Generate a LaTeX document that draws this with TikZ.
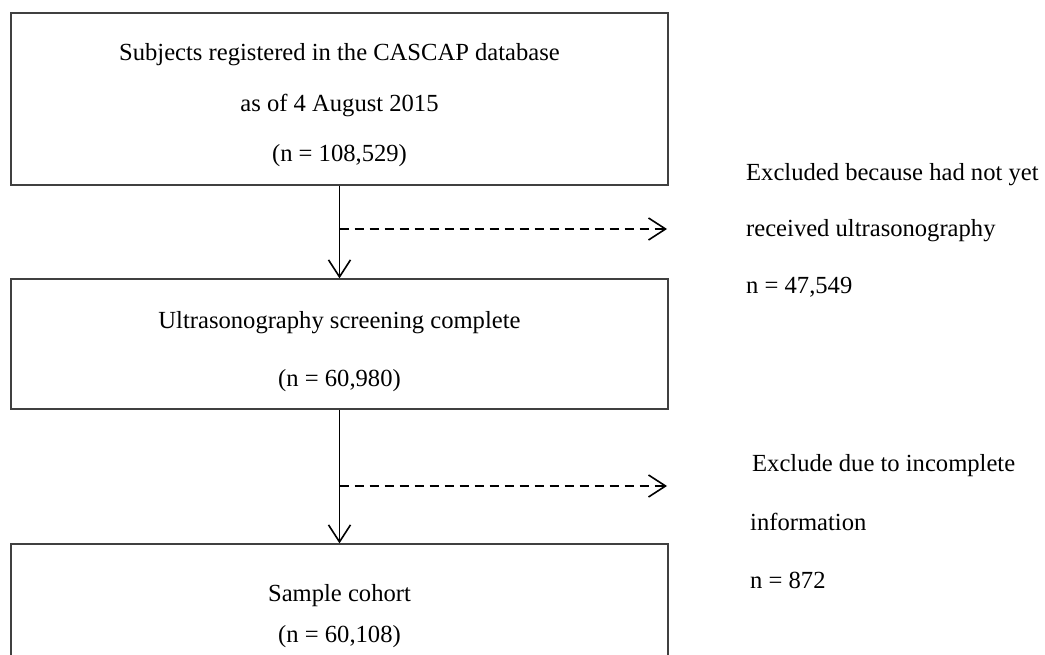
\documentclass[tikz,border=0pt]{standalone}
\usepackage{fontspec}
\setmainfont{Liberation Serif}
\usetikzlibrary{arrows.meta}
\tikzset{
  box/.style={draw=black!75,line width=1.3pt,minimum width=657pt,align=center,inner sep=0pt},
  flow/.style={line width=1.6pt,-{Straight Barb[length=17pt,width=22pt,line width=1.6pt]}},
  excl/.style={line width=1.6pt,dash pattern=on 9pt off 6pt,-{Straight Barb[length=17pt,width=22pt,line width=1.6pt]}},
  note/.style={anchor=west,align=left,inner sep=0pt}
}

\begin{document}
\begin{tikzpicture}[x=1pt,y=-1pt,font=\fontsize{24.6}{28}\selectfont]
\useasboundingbox (0,0) rectangle (1045,655);
\node[box,minimum height=172pt,font=\fontsize{24.6}{50.5}\selectfont] (subj) at (339.5,99) {\rule{0pt}{30pt}Subjects registered in the CASCAP database\\as of 4 August 2015\\(n = 108,529)};
\node[box,minimum height=130pt,font=\fontsize{24.6}{58}\selectfont] (usg) at (339.5,344) {\rule{0pt}{32pt}Ultrasonography screening complete\\(n = 60,980)};
\node[box,minimum height=136pt,font=\fontsize{24.6}{41}\selectfont] (cohort) at (339.5,612) {\rule{0pt}{25pt}Sample cohort\\(n = 60,108)};
\draw[flow] (subj) -- (usg);
\draw[flow] (usg) -- (cohort);
% exclusions
\coordinate (d1) at (339.5,229);
\coordinate (e1) at (667,229);
\coordinate (d2) at (339.5,486);
\coordinate (e2) at (667,486);
\draw[excl] (d1) -- (e1);
\draw[excl] (d2) -- (e2);
\node[note,font=\fontsize{24.6}{56.5}\selectfont] (nous) at (746,230) {Excluded because had not yet\\received ultrasonography\\n = 47,549};
\node[note,font=\fontsize{24.6}{58.5}\selectfont] (noinfo) at (750,522) {\hspace*{2pt}Exclude due to incomplete\\information\\n = 872};
\end{tikzpicture}
\end{document}
